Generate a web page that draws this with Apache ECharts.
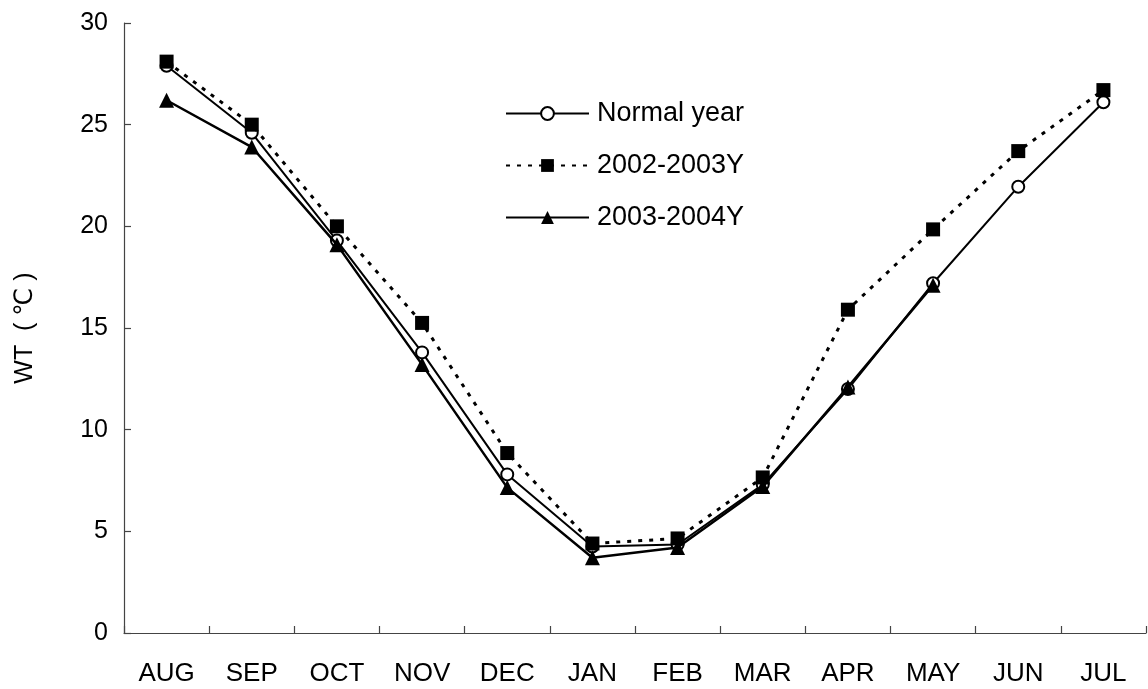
<!DOCTYPE html>
<html>
<head>
<meta charset="utf-8">
<script src="https://cdn.jsdelivr.net/npm/echarts@6/dist/echarts.min.js"></script>
<style>
  html, body { margin: 0; padding: 0; background: #fff; }
  #chart { width: 1148px; height: 689px; }
</style>
</head>
<body>
<div id="chart"></div>
<script>
// Monthly mean water temperature (°C), August through July
const months = ['AUG', 'SEP', 'OCT', 'NOV', 'DEC', 'JAN', 'FEB', 'MAR', 'APR', 'MAY', 'JUN', 'JUL'];
const normalYear = [27.9, 24.6, 19.3, 13.8, 7.8, 4.25, 4.35, 7.3, 12.0, 17.2, 21.95, 26.1];
const y2002_2003 = [28.1, 25.0, 20.0, 15.25, 8.85, 4.4, 4.65, 7.65, 15.9, 19.85, 23.7, 26.7];
const y2003_2004 = [26.2, 23.9, 19.1, 13.2, 7.15, 3.7, 4.2, 7.2, 12.1, 17.1, null, null];
const yTicks = { min: 0, max: 30, interval: 5 };

const FONT = '"Liberation Sans", Arial, "DejaVu Sans", sans-serif';
const AXIS_COLOR = '#444';
const chart = echarts.init(document.getElementById('chart'), null, { renderer: 'canvas' });

chart.setOption({
  animation: false,
  backgroundColor: '#fff',
  grid: { left: 124, right: 2, top: 23, bottom: 56, containLabel: false },
  legend: {
    left: 505,
    top: 100,
    padding: 0,
    orient: 'vertical',
    itemWidth: 83,
    itemHeight: 16,
    itemGap: 25,
    textStyle: { fontFamily: FONT, fontSize: 27, color: '#000', padding: [0, 0, 0, 3] },
    data: ['Normal year', '2002-2003Y', '2003-2004Y']
  },
  xAxis: {
    type: 'category',
    data: months,
    boundaryGap: true,
    axisLine: { show: true, lineStyle: { color: AXIS_COLOR, width: 1.2 } },
    axisTick: { show: true, inside: true, length: 7, interval: 0, lineStyle: { color: AXIS_COLOR, width: 1.2 } },
    axisLabel: { fontFamily: FONT, fontSize: 26, color: '#000', margin: 28, interval: 0 },
    splitLine: { show: false }
  },
  yAxis: {
    type: 'value',
    min: yTicks.min,
    max: yTicks.max,
    interval: yTicks.interval,
    name: 'WT  ( ℃ )',
    nameLocation: 'middle',
    nameGap: 86,
    nameTextStyle: { fontFamily: FONT, fontSize: 25, color: '#000' },
    axisLine: { show: true, lineStyle: { color: AXIS_COLOR, width: 1.2 } },
    axisTick: { show: true, inside: true, length: 7, lineStyle: { color: AXIS_COLOR, width: 1.2 } },
    axisLabel: { fontFamily: FONT, fontSize: 25, color: '#000', margin: 16 },
    splitLine: { show: false }
  },
  series: [
    {
      name: 'Normal year',
      type: 'line',
      data: normalYear,
      symbol: 'circle',
      symbolSize: 12,
      itemStyle: { color: '#fff', borderColor: '#000', borderWidth: 2 },
      lineStyle: { color: '#000', width: 2 },
      z: 2
    },
    {
      name: '2002-2003Y',
      type: 'line',
      data: y2002_2003,
      symbol: 'rect',
      symbolSize: 14,
      itemStyle: { color: '#000' },
      lineStyle: { color: '#000', width: 3, type: [4, 7] },
      z: 3
    },
    {
      name: '2003-2004Y',
      type: 'line',
      data: y2003_2004,
      symbol: 'triangle',
      symbolSize: 15,
      connectNulls: false,
      itemStyle: { color: '#000' },
      lineStyle: { color: '#000', width: 2.5 },
      z: 4
    }
  ]
});
</script>
</body>
</html>
